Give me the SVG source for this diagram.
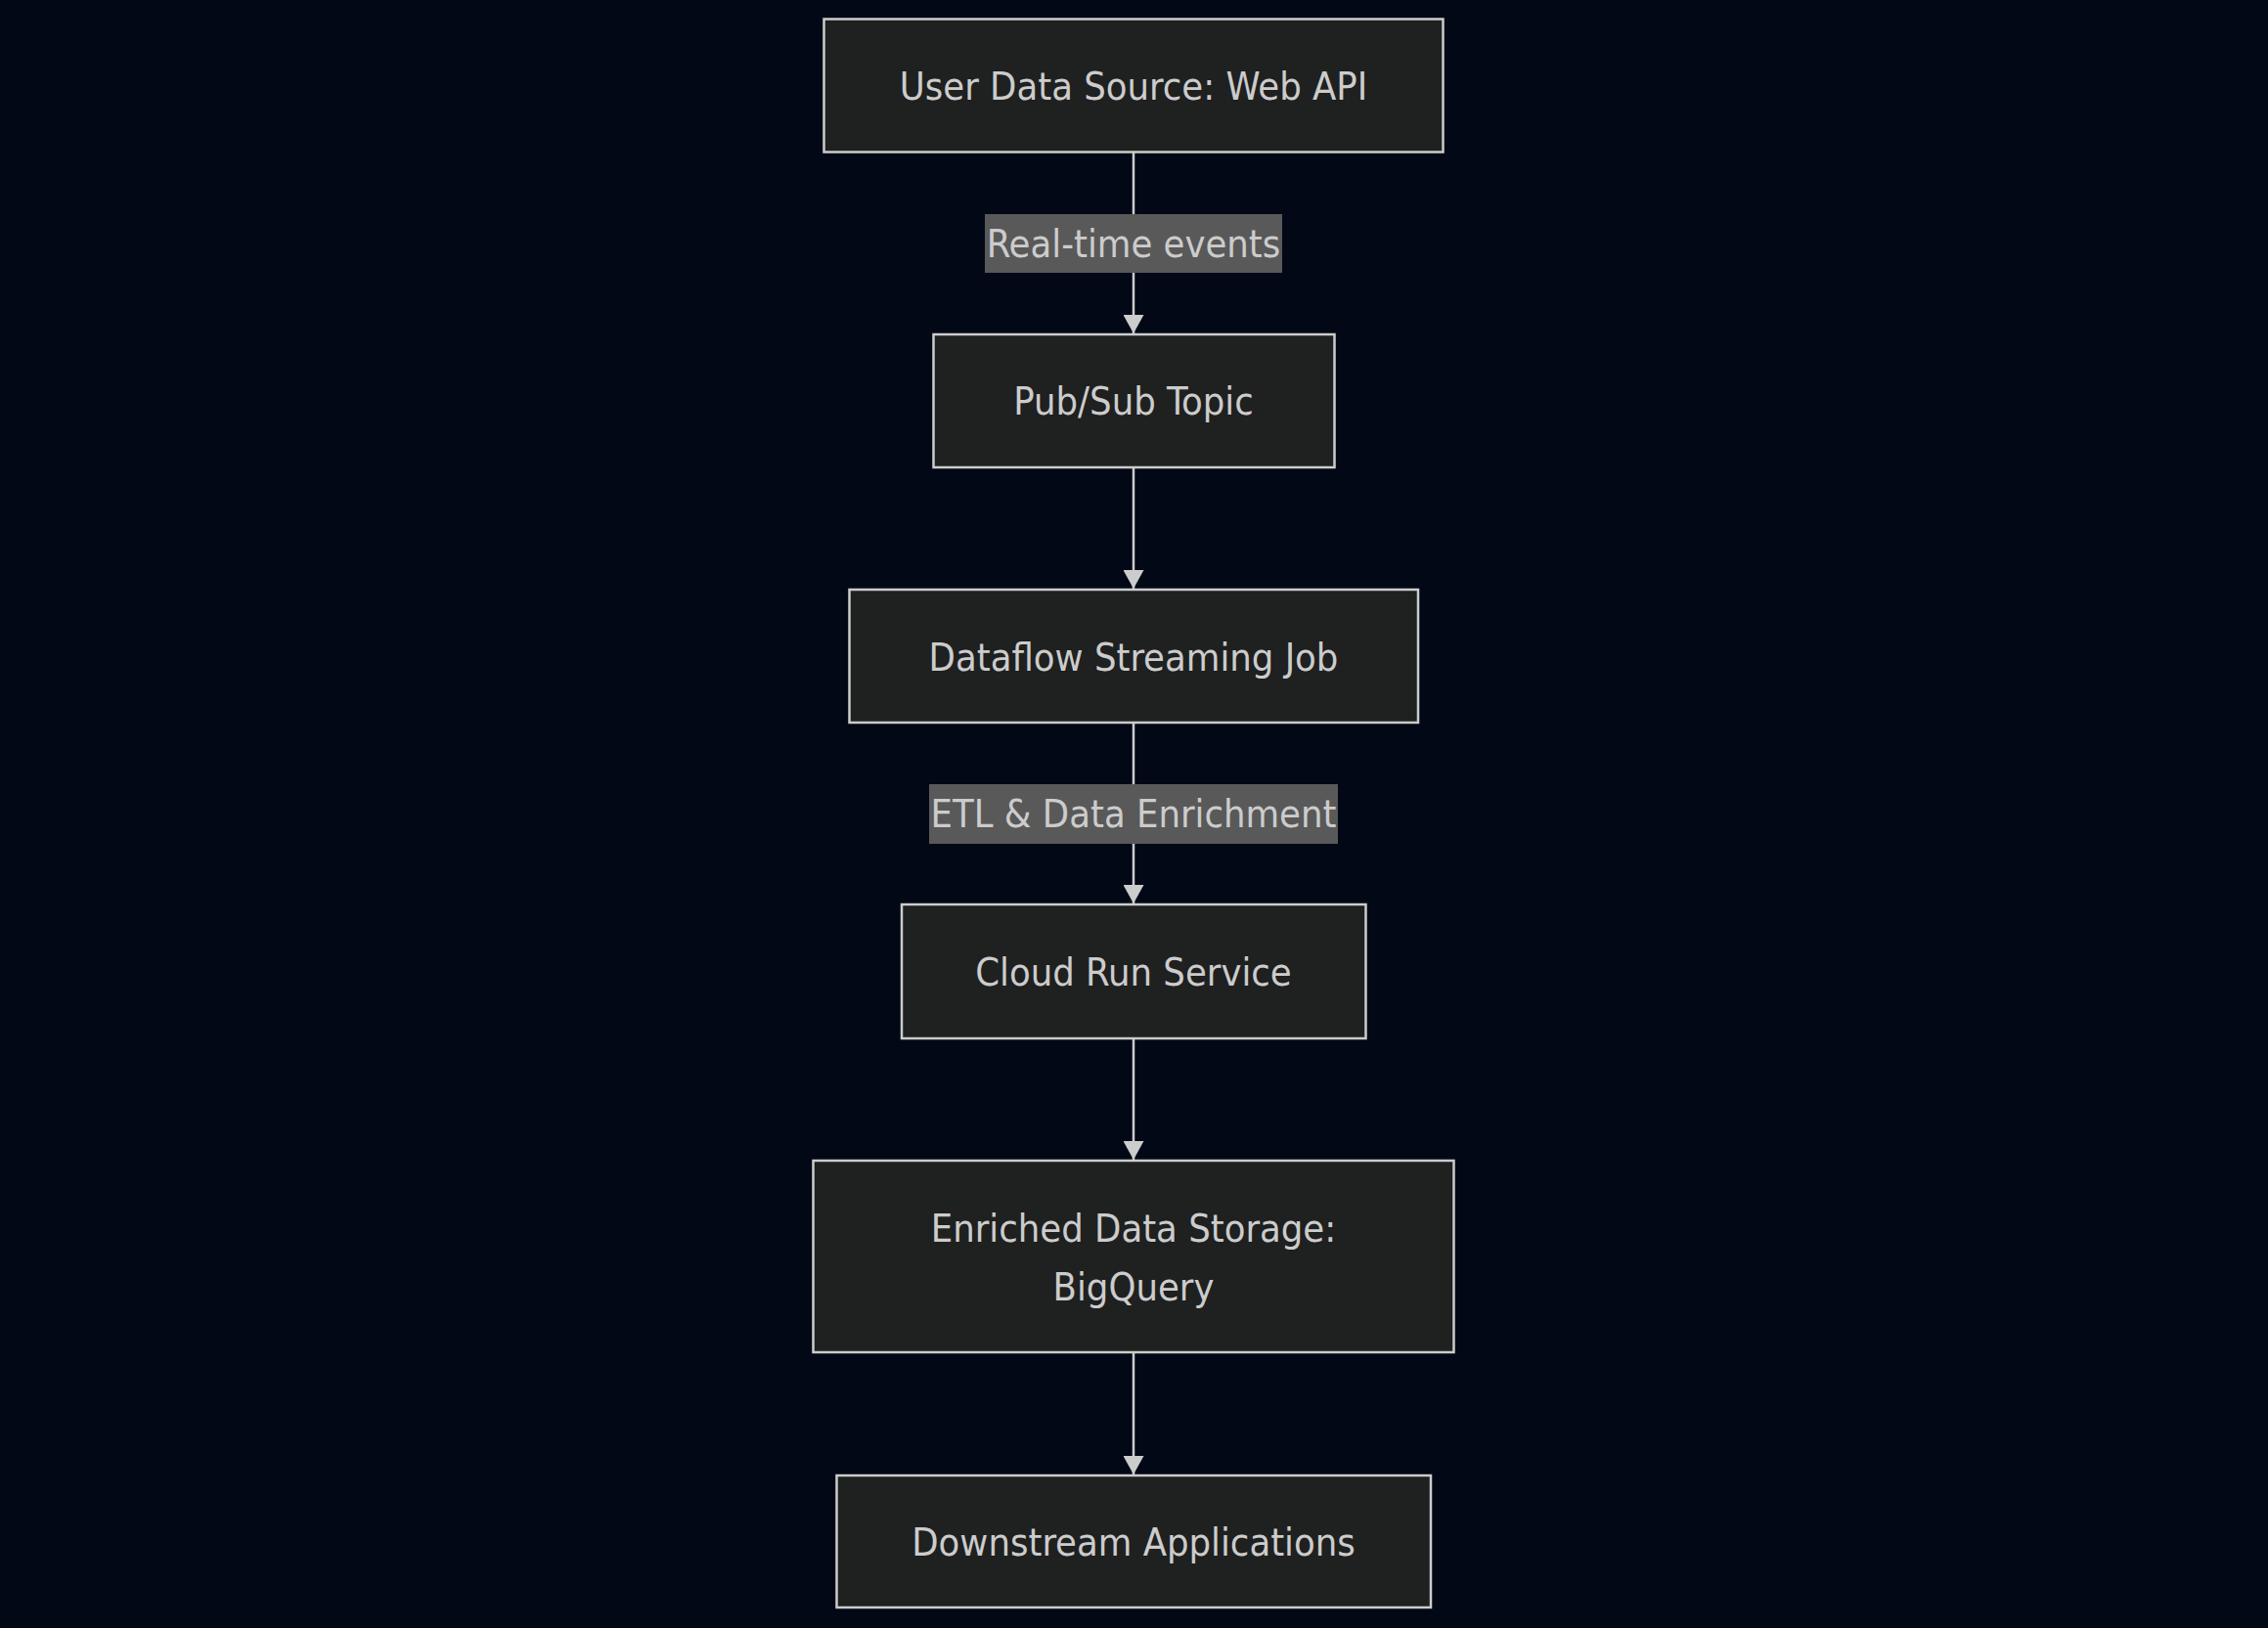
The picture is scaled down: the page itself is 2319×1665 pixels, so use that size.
<svg xmlns="http://www.w3.org/2000/svg" width="2319" height="1665" viewBox="0 0 2319 1665">
<defs>
<style>
.bg{fill:#020816}
.node rect{fill:#1f2020;stroke:#cccccc;stroke-width:2.5}
.node text,.elabel text{font-family:"DejaVu Sans Condensed","DejaVu Sans",sans-serif;font-size:39.5px;fill:#cccccc;text-anchor:middle}
.elabel rect{fill:#595959}
.edge{stroke:#cccccc;stroke-width:2.5;fill:none}
</style>
<marker id="arrow" viewBox="0 0 19 21" refX="19" refY="10.5" markerUnits="userSpaceOnUse" markerWidth="19" markerHeight="21" orient="auto">
<path d="M0,0 L19,10.5 L0,21 z" fill="#cccccc"/>
</marker>
</defs>
<rect class="bg" x="0" y="0" width="2319" height="1665"/>
<g id="connectors">
<path class="edge" d="M1159,156 L1159,341" marker-end="url(#arrow)"/>
<path class="edge" d="M1159,478 L1159,602" marker-end="url(#arrow)"/>
<path class="edge" d="M1159,739 L1159,924" marker-end="url(#arrow)"/>
<path class="edge" d="M1159,1062 L1159,1186" marker-end="url(#arrow)"/>
<path class="edge" d="M1159,1383 L1159,1508" marker-end="url(#arrow)"/>
<g class="elabel"><rect x="1007" y="219" width="304" height="60"/><text x="1159" y="263">Real-time events</text></g>
<g class="elabel"><rect x="950" y="802" width="418" height="61"/><text x="1159" y="846">ETL &amp; Data Enrichment</text></g>
</g>
<g id="n1" class="node"><rect x="842.5" y="19.5" width="633" height="136"/><text x="1159" y="102">User Data Source: Web API</text></g>
<g id="n2" class="node"><rect x="954.5" y="342" width="410" height="136"/><text x="1159" y="424">Pub/Sub Topic</text></g>
<g id="n3" class="node"><rect x="868.5" y="603" width="581.5" height="136"/><text x="1159" y="686">Dataflow Streaming Job</text></g>
<g id="n4" class="node"><rect x="922" y="925" width="474.5" height="137"/><text x="1159" y="1008">Cloud Run Service</text></g>
<g id="n5" class="node"><rect x="831.5" y="1187" width="655" height="196"/><text x="1159" y="1270">Enriched Data Storage:</text><text x="1159" y="1330">BigQuery</text></g>
<g id="n6" class="node"><rect x="855.5" y="1509" width="607.5" height="135"/><text x="1159" y="1591">Downstream Applications</text></g>
</svg>
